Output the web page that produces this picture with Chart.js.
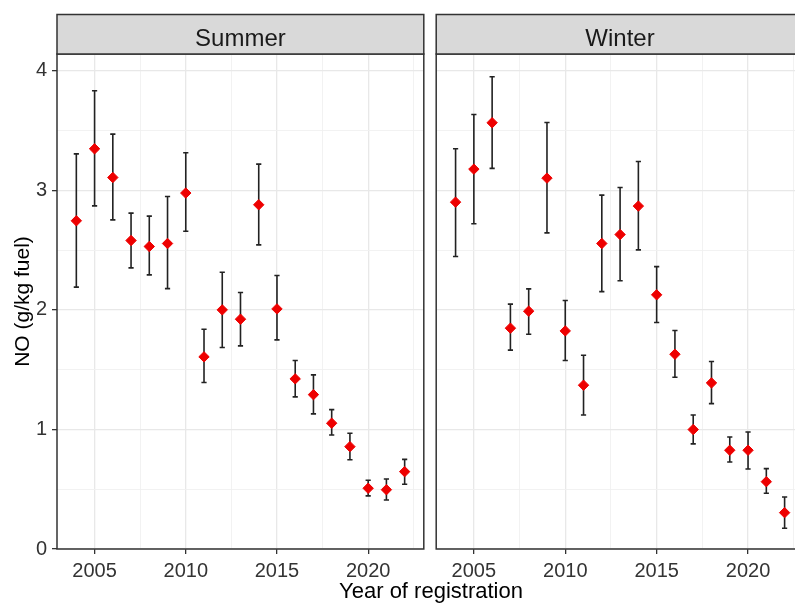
<!DOCTYPE html>
<html>
<head>
<meta charset="utf-8">
<script src="https://cdn.jsdelivr.net/npm/chart.js@4/dist/chart.umd.min.js"></script>
<style>
  html, body { margin: 0; padding: 0; background: #fff; overflow: hidden; }
  #wrap { position: relative; width: 795px; height: 606px; overflow: hidden; background: #fff; }
  #summer { position: absolute; left: 0; top: 0; }
  #winter { position: absolute; left: 430px; top: 0; }
  #xtitle {
    position: absolute; left: 331px; top: 578px; width: 200px;
    text-align: center; white-space: nowrap; color: #000;
    font: 22px 'Liberation Sans', Arial, sans-serif; line-height: 26px;
  }
</style>
</head>
<body>
<div id="wrap">
  <canvas id="summer" width="430" height="606"></canvas>
  <canvas id="winter" width="380" height="606"></canvas>
  <div id="xtitle">Year of registration</div>
</div>
<script>
// Registration years shared by both seasons
const years = [2004, 2005, 2006, 2007, 2008, 2009, 2010, 2011, 2012, 2013,
               2014, 2015, 2016, 2017, 2018, 2019, 2020, 2021, 2022];

// Summer: mean NO emission factor and interval bounds (g/kg fuel)
const summerMean = [2.745, 3.347, 3.107, 2.58, 2.53, 2.555, 2.977, 1.607, 2.0, 1.922,
                    2.879, 2.008, 1.423, 1.291, 1.052, 0.856, 0.508, 0.496, 0.647];
const summerLow  = [2.19, 2.87, 2.753, 2.351, 2.293, 2.178, 2.658, 1.392, 1.685, 1.699,
                    2.544, 1.749, 1.272, 1.13, 0.954, 0.747, 0.444, 0.41, 0.541];
const summerHigh = [3.305, 3.833, 3.47, 2.809, 2.784, 2.948, 3.314, 1.838, 2.315, 2.145,
                    3.219, 2.287, 1.576, 1.456, 1.166, 0.968, 0.575, 0.586, 0.75];

// Winter: mean NO emission factor and interval bounds (g/kg fuel)
const winterMean = [2.901, 3.177, 3.565, 1.847, 1.989, 3.102, 1.824, 1.37, 2.555, 2.63,
                    2.868, 2.126, 1.629, 0.999, 1.389, 0.826, 0.826, 0.563, 0.304];
const winterLow  = [2.446, 2.72, 3.183, 1.663, 1.796, 2.644, 1.576, 1.121, 2.153, 2.243,
                    2.502, 1.894, 1.437, 0.879, 1.216, 0.728, 0.669, 0.466, 0.173];
const winterHigh = [3.347, 3.634, 3.95, 2.048, 2.176, 3.567, 2.078, 1.621, 2.96, 3.024,
                    3.241, 2.362, 1.827, 1.121, 1.568, 0.937, 0.979, 0.672, 0.435];

// Axis tick labels
const xTickLabels = [2005, 2010, 2015, 2020];
const yTickLabels = [0, 1, 2, 3, 4];

const FONT = "'Liberation Sans', Arial, sans-serif";
const X_MIN = 2002.94, X_MAX = 2023.05;
const Y_MIN = 0, Y_MAX = 4.14;

// Grid positions: labelled ticks plus the midpoints between them
const xGrid = [];
xTickLabels.forEach(v => { xGrid.push(v); xGrid.push(v + 2.5); });
const yGrid = [];
yTickLabels.forEach(v => { yGrid.push(v); if (v + 0.5 < Y_MAX) yGrid.push(v + 0.5); });

function isMajor(list, v) { return list.some(t => Math.abs(t - v) < 1e-6); }

function makePanel(canvasId, stripText, mean, low, high, showY, padding) {
  // Vertical interval bars with end caps, drawn under the points
  const errorBars = {
    id: 'errorBars',
    beforeDatasetsDraw(chart) {
      const { ctx, scales: { x, y } } = chart;
      ctx.save();
      ctx.strokeStyle = '#222';
      ctx.lineWidth = 1.6;
      ctx.lineCap = 'butt';
      years.forEach((yr, i) => {
        const px = x.getPixelForValue(yr);
        const pLo = y.getPixelForValue(low[i]);
        const pHi = y.getPixelForValue(high[i]);
        ctx.beginPath();
        ctx.moveTo(px, pLo); ctx.lineTo(px, pHi);
        ctx.moveTo(px - 2.6, pLo); ctx.lineTo(px + 2.6, pLo);
        ctx.moveTo(px - 2.6, pHi); ctx.lineTo(px + 2.6, pHi);
        ctx.stroke();
      });
      ctx.restore();
    }
  };

  // Panel frame and facet strip
  const facet = {
    id: 'facet',
    afterDraw(chart) {
      const { ctx, chartArea: a } = chart;
      ctx.save();
      ctx.lineWidth = 1.5;
      ctx.strokeStyle = '#333';
      ctx.strokeRect(a.left, a.top, a.right - a.left, a.bottom - a.top);
      const stripTop = 14.5;
      ctx.fillStyle = '#d9d9d9';
      ctx.fillRect(a.left, stripTop, a.right - a.left, a.top - stripTop);
      ctx.strokeRect(a.left, stripTop, a.right - a.left, a.top - stripTop);
      ctx.fillStyle = '#1a1a1a';
      ctx.font = '24px ' + FONT;
      ctx.textAlign = 'center';
      ctx.textBaseline = 'alphabetic';
      ctx.fillText(stripText, (a.left + a.right) / 2, 46);
      ctx.restore();
    }
  };

  return new Chart(document.getElementById(canvasId), {
    type: 'scatter',
    data: {
      datasets: [{
        data: years.map((yr, i) => ({ x: yr, y: mean[i] })),
        pointStyle: 'rectRot',
        pointRadius: 5.2,
        pointBorderWidth: 1,
        backgroundColor: '#ee0000',
        borderColor: '#ee0000',
        showLine: false
      }]
    },
    options: {
      responsive: false,
      animation: false,
      devicePixelRatio: 1,
      events: [],
      layout: { padding },
      plugins: { legend: { display: false }, tooltip: { enabled: false } },
      scales: {
        x: {
          type: 'linear',
          min: X_MIN, max: X_MAX,
          afterBuildTicks: s => { s.ticks = xGrid.filter(v => v >= X_MIN && v <= X_MAX).map(v => ({ value: v })); },
          afterFit: s => { s.height = 57; },
          border: { display: false },
          grid: {
            color: c => isMajor(xTickLabels, c.tick.value) ? '#e8e8e8' : '#f1f1f1',
            lineWidth: c => isMajor(xTickLabels, c.tick.value) ? 1.3 : 0.9,
            drawTicks: true,
            tickLength: 5,
            tickWidth: 1.3,
            tickColor: c => isMajor(xTickLabels, c.tick.value) ? '#333' : 'rgba(0,0,0,0)'
          },
          ticks: {
            autoSkip: false,
            maxRotation: 0,
            padding: 5,
            color: '#333',
            font: { family: FONT, size: 20 },
            callback: v => isMajor(xTickLabels, v) ? String(v) : ''
          }
        },
        y: {
          type: 'linear',
          min: Y_MIN, max: Y_MAX,
          afterBuildTicks: s => { s.ticks = yGrid.map(v => ({ value: v })); },
          afterFit: s => { s.width = showY ? 57 : 0; },
          border: { display: false },
          grid: {
            color: c => isMajor(yTickLabels, c.tick.value) ? '#e8e8e8' : '#f1f1f1',
            lineWidth: c => isMajor(yTickLabels, c.tick.value) ? 1.3 : 0.9,
            drawTicks: showY,
            tickLength: 5,
            tickWidth: 1.3,
            tickColor: c => isMajor(yTickLabels, c.tick.value) ? '#333' : 'rgba(0,0,0,0)'
          },
          ticks: {
            display: showY,
            autoSkip: false,
            padding: 5,
            color: '#333',
            font: { family: FONT, size: 20 },
            callback: v => isMajor(yTickLabels, v) ? String(v) : ''
          },
          title: {
            display: showY,
            text: 'NO (g/kg fuel)',
            color: '#000',
            font: { family: FONT, size: 21 },
            padding: { top: 11, bottom: 0 }
          }
        }
      }
    },
    plugins: [errorBars, facet]
  });
}

makePanel('summer', 'Summer', summerMean, summerLow, summerHigh, true,
          { left: 0, right: 4, top: 54, bottom: 0 });
makePanel('winter', 'Winter', winterMean, winterLow, winterHigh, false,
          { left: 5, right: 6, top: 54, bottom: 0 });
</script>
</body>
</html>
